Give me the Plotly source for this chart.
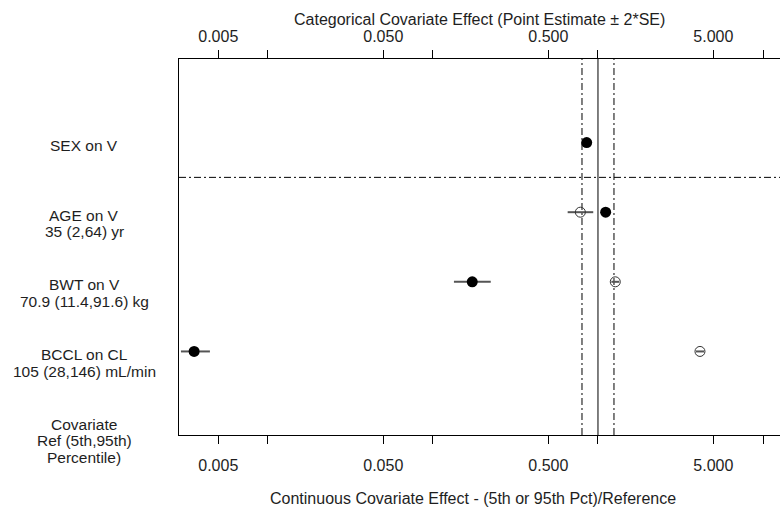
import plotly.graph_objects as go

# ---------------- data ----------------
row_labels = [
    ["SEX on V"],
    ["AGE on V", "35 (2,64) yr"],
    ["BWT on V", "70.9 (11.4,91.6) kg"],
    ["BCCL on CL", "105 (28,146) mL/min"],
    ["Covariate", "Ref (5th,95th)", "Percentile)"],
]
row_pos = [5, 4, 3, 2, 1]

# categorical covariate (point estimate +/- 2*SE)
cat_rows = [5]
cat_est = [0.854]
cat_lo = [0.812]
cat_hi = [0.898]

# continuous covariates: effect at 5th percentile (filled) / 95th percentile (open)
cont_rows = [4, 3, 2]
p5_est = [1.113, 0.173, 0.00357]
p5_lo = [1.070, 0.134, 0.00297]
p5_hi = [1.158, 0.224, 0.00445]
p95_est = [0.782, 1.273, 4.15]
p95_lo = [0.655, 1.205, 3.92]
p95_hi = [0.936, 1.345, 4.40]

ref_value = 1.0
bounds = [0.8, 1.25]
separator = 4.5

tick_vals = [0.005, 0.01, 0.05, 0.1, 0.5, 1, 5, 10]
tick_text = ["0.005", "", "0.050", "", "0.500", "", "5.000", ""]

x_range = [-2.539, 1.103]
y_range = [0.8, 6.2]

FONT = "Liberation Sans, Arial, sans-serif"
TXT = "#1e1e1e"

fig = go.Figure()

# reference lines
for b in bounds:
    fig.add_trace(go.Scatter(x=[b, b], y=y_range, mode="lines",
                             line=dict(color="black", width=1, dash="7px,3px,2px,3px"),
                             hoverinfo="skip", showlegend=False))
fig.add_trace(go.Scatter(x=[ref_value, ref_value], y=y_range, mode="lines",
                         line=dict(color="black", width=1),
                         hoverinfo="skip", showlegend=False))
fig.add_trace(go.Scatter(x=[10 ** x_range[0], 10 ** x_range[1]], y=[separator, separator],
                         mode="lines",
                         line=dict(color="black", width=1, dash="7px,3px,2px,3px"),
                         hoverinfo="skip", showlegend=False))


def seg(lo, hi, ys):
    xs, yy = [], []
    for a, b, y in zip(lo, hi, ys):
        xs += [a, b, None]
        yy += [y, y, None]
    return xs, yy


# error bars
for lo, hi, ys, ax in [(cat_lo, cat_hi, cat_rows, "x2"),
                       (p5_lo, p5_hi, cont_rows, "x"),
                       (p95_lo, p95_hi, cont_rows, "x")]:
    xs, yy = seg(lo, hi, ys)
    fig.add_trace(go.Scatter(x=xs, y=yy, mode="lines", xaxis=ax,
                             line=dict(color="#555555", width=2),
                             hoverinfo="skip", showlegend=False))

# points
fig.add_trace(go.Scatter(x=cat_est, y=cat_rows, mode="markers", xaxis="x2",
                         marker=dict(symbol="circle", size=11, color="black"),
                         showlegend=False))
fig.add_trace(go.Scatter(x=p5_est, y=cont_rows, mode="markers",
                         marker=dict(symbol="circle", size=11, color="black"),
                         showlegend=False))
fig.add_trace(go.Scatter(x=p95_est, y=cont_rows, mode="markers",
                         marker=dict(symbol="circle-open", size=10, color="#333333",
                                     line=dict(width=1)),
                         showlegend=False))

axis_common = dict(type="log", range=x_range, tickmode="array", tickvals=tick_vals,
                   ticktext=tick_text, ticks="outside", ticklen=8, tickwidth=1,
                   tickcolor="black", showgrid=False, zeroline=False,
                   showline=True, linecolor="black", linewidth=1,
                   tickfont=dict(family=FONT, size=16, color=TXT))

fig.update_layout(
    width=780, height=510,
    margin=dict(l=179, r=0, t=59, b=75),
    paper_bgcolor="white", plot_bgcolor="white",
    xaxis=dict(**axis_common, side="bottom", anchor="y", ticklabelstandoff=8),
    xaxis2=dict(**axis_common, side="top", anchor="y", overlaying="x", ticklabelstandoff=2),
    yaxis=dict(range=y_range, showticklabels=False, ticks="", showgrid=False,
               zeroline=False, showline=True, linecolor="black", linewidth=1),
    showlegend=False,
)

annotations = []
for lines, y in zip(row_labels, row_pos):
    for i, t in enumerate(lines):
        annotations.append(dict(text=t, xref="paper", yref="y", x=0, y=y, xshift=-95,
                                yshift=-(3 + i * 16.7), xanchor="center", yanchor="middle",
                                showarrow=False, font=dict(family=FONT, size=15.5, color=TXT)))
annotations.append(dict(text="Categorical Covariate Effect (Point Estimate \u00b1 2*SE)",
                        xref="paper", yref="paper", x=0.5, y=1, yshift=40,
                        xanchor="center", yanchor="middle", showarrow=False,
                        font=dict(family=FONT, size=16, color=TXT)))
annotations.append(dict(text="Continuous Covariate Effect - (5th or 95th Pct)/Reference",
                        xref="paper", yref="paper", x=0.49, y=0, yshift=-63,
                        xanchor="center", yanchor="middle", showarrow=False,
                        font=dict(family=FONT, size=16, color=TXT)))
fig.update_layout(annotations=annotations)

fig.write_html("out.html")
